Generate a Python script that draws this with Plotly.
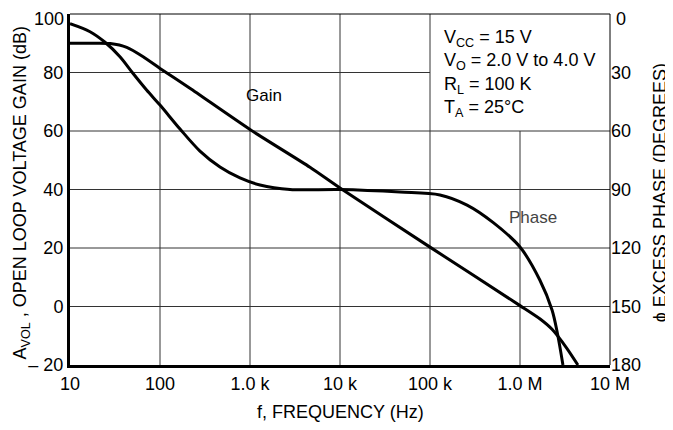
import math
import plotly.graph_objects as go

# ---- data ----
gain_freq = [10, 20, 28, 42.7, 65, 100, 215, 1000, 4640, 10000, 100000, 1000000, 1660000, 2270000, 3300000, 4400000]
gain_db = [90, 90, 89.9, 88.6, 85.4, 81.4, 74.6, 60.5, 47.6, 40.5, 20.3, 0.3, -4.2, -7.8, -14.2, -20]

phase_freq = [10, 16.7, 24.5, 35.9, 50, 71, 100, 167, 278, 464, 774, 1292, 2780, 10000,
              46400, 129000, 258000, 505000, 1000000, 1660000, 2270000, 2600000, 3000000]
phase_deg = [5, 9.1, 14.5, 21.9, 30.4, 39, 46.7, 59.0, 70.3, 78.5, 84.1, 87.7, 90, 90,
             91.3, 92.8, 98, 107, 119.5, 136.4, 151.8, 163.6, 180]

x_ticks = [10, 100, 1000, 10000, 100000, 1000000, 10000000]
x_labels = ["10", "100", "1.0 k", "10 k", "100 k", "1.0 M", "10 M"]
gain_ticks = [-20, 0, 20, 40, 60, 80, 100]
gain_labels = ["\u2013 20", "0", "20", "40", "60", "80", "100"]
phase_ticks = [0, 30, 60, 90, 120, 150, 180]
phase_labels = ["0", "30", "60", "90", "120", "150", "180"]

# conditions box occupies the upper-right region (no grid there)
box_freq_min = 100000
box_gain_min = 60

FONT = "Liberation Sans, Arial, sans-serif"
FS = 18

fig = go.Figure()
fig.add_trace(go.Scatter(x=gain_freq, y=gain_db, mode="lines", name="Gain",
                         line=dict(color="black", width=3, shape="spline", smoothing=0.6),
                         yaxis="y", showlegend=False))
fig.add_trace(go.Scatter(x=phase_freq, y=phase_deg, mode="lines", name="Phase",
                         line=dict(color="black", width=3, shape="spline", smoothing=0.9),
                         yaxis="y2", showlegend=False))

lx0 = math.log10(x_ticks[0])
lx1 = math.log10(x_ticks[-1])


def xfrac(f):
    return (math.log10(f) - lx0) / (lx1 - lx0)


shapes = []
grid = dict(color="#333333", width=1)
# horizontal grid lines
for v in gain_ticks[1:-1]:
    x1 = 1 if v <= box_gain_min else xfrac(box_freq_min)
    shapes.append(dict(type="line", xref="x domain", yref="y", x0=0, x1=x1, y0=v, y1=v,
                       line=grid, layer="below"))
# vertical grid lines
for f in x_ticks[1:-1]:
    y1 = gain_ticks[-1] if f <= box_freq_min else box_gain_min
    shapes.append(dict(type="line", xref="x domain", yref="y", x0=xfrac(f), x1=xfrac(f),
                       y0=gain_ticks[0], y1=y1, line=grid, layer="below"))
# thin top/right frame
shapes.append(dict(type="line", xref="x domain", yref="y domain", x0=0, x1=1, y0=1, y1=1,
                   line=dict(color="black", width=1), layer="below"))
shapes.append(dict(type="line", xref="x domain", yref="y domain", x0=1, x1=1, y0=0, y1=1,
                   line=dict(color="black", width=1), layer="below"))

tick_font = dict(size=FS, color="black", family=FONT)
annotations = [
    # topmost tick labels sit slightly below their grid line (as in the reference)
    dict(text=gain_labels[-1], xref="paper", yref="y", x=0, y=gain_ticks[-1], xanchor="right",
         yanchor="middle", xshift=-4, yshift=-4.5, showarrow=False, font=tick_font),
    dict(text=phase_labels[0], xref="paper", yref="y2", x=1, y=phase_ticks[0], xanchor="left",
         yanchor="middle", xshift=4, yshift=-4.5, showarrow=False, font=tick_font),
    dict(text="V<sub>CC</sub> = 15 V<br>V<sub>O</sub> = 2.0 V to 4.0 V<br>R<sub>L</sub> = 100 K<br>T<sub>A</sub> = 25\u00b0C",
         xref="paper", yref="paper", x=0.688, y=0.968, xanchor="left", yanchor="top",
         align="left", showarrow=False, font=dict(size=FS, color="black", family=FONT)),
    dict(text="Gain", xref="x", yref="y", x=math.log10(1430), y=72.3, showarrow=False,
         font=dict(size=FS - 1, color="black", family=FONT)),
    dict(text="Phase", xref="x", yref="y", x=math.log10(1390000), y=30.3, showarrow=False,
         font=dict(size=FS - 1, color="#444444", family=FONT)),
    dict(text="A<sub>VOL</sub> , OPEN LOOP VOLTAGE GAIN (dB)", xref="paper", yref="paper",
         x=-0.09, y=0.49, xanchor="center", yanchor="middle", textangle=-90, showarrow=False,
         font=dict(size=FS, color="black", family=FONT)),
    dict(text="\u03d5 EXCESS PHASE (DEGREES)", xref="paper", yref="paper",
         x=1.093, y=0.49, xanchor="center", yanchor="middle", textangle=-90, showarrow=False,
         font=dict(size=FS, color="black", family=FONT)),
    dict(text="f, FREQUENCY (Hz)", xref="paper", yref="paper",
         x=0.5, y=-0.134, xanchor="center", yanchor="middle", showarrow=False,
         font=dict(size=FS, color="black", family=FONT)),
]

gain_ticktext = gain_labels[:-1] + [""]
phase_ticktext = [""] + phase_labels[1:]

# the page body adds an 8 px offset, so margins are reduced by 8 px on left/top
fig.update_layout(
    width=673, height=430,
    margin=dict(l=62, r=71, t=6, b=73, autoexpand=False),
    paper_bgcolor="white", plot_bgcolor="white",
    font=dict(family=FONT, size=FS, color="black"),
    xaxis=dict(type="log", range=[lx0, lx1], tickvals=x_ticks, ticktext=x_labels,
               showgrid=False, zeroline=False, showline=True, linewidth=3, linecolor="black",
               ticks="", tickfont=dict(size=FS), automargin=False, ticklabeloverflow="allow"),
    yaxis=dict(range=[gain_ticks[0], gain_ticks[-1]], tickvals=gain_ticks, ticktext=gain_ticktext,
               showgrid=False, zeroline=False, showline=True, linewidth=3, linecolor="black",
               ticks="", tickfont=dict(size=FS), automargin=False, ticklabeloverflow="allow"),
    yaxis2=dict(range=[phase_ticks[-1], phase_ticks[0]], tickvals=phase_ticks, ticktext=phase_ticktext,
                overlaying="y", side="right", showgrid=False, zeroline=False, showline=False,
                ticks="", tickfont=dict(size=FS), automargin=False, ticklabeloverflow="allow"),
    shapes=shapes,
    annotations=annotations,
)

fig.write_html("out.html")
